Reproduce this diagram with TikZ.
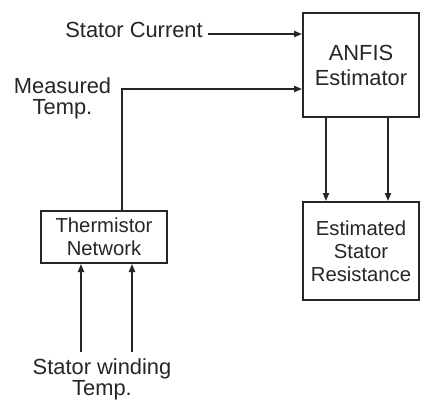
\documentclass[tikz,border=0pt]{standalone}
\usepackage{fontspec}
\setmainfont{Liberation Sans}
\usetikzlibrary{arrows.meta}
\definecolor{ink}{HTML}{262626}
\begin{document}
\begin{tikzpicture}[x=0.75pt,y=-0.75pt,
  box/.style={draw=ink,line width=1.5pt,rectangle,inner sep=0pt,align=center,text=ink},
  lbl/.style={inner sep=0pt,align=center,text=ink,font=\fontsize{16.4pt}{15.75pt}\selectfont},
  arr/.style={draw=ink,line width=1.3pt,-{Triangle[length=6pt,width=4.6pt]}},
  ln/.style={draw=ink,line width=1.3pt}]
\useasboundingbox[fill=white] (0,0) rectangle (421,403);
% blocks
\node[box,minimum width=87pt,minimum height=78pt,
  font=\fontsize{16.4pt}{18.75pt}\selectfont] (anfis) at (361,65) {ANFIS\\Estimator};
\node[box,minimum width=87pt,minimum height=73.5pt,
  font=\fontsize{15.2pt}{17.25pt}\selectfont] (est) at (361,251) {Estimated\\Stator\\Resistance};
\node[box,minimum width=94.5pt,minimum height=39pt,
  font=\fontsize{15.2pt}{17.25pt}\selectfont] (therm) at (104,237) {Thermistor\\Network};
% labels
\node[lbl,anchor=north east] (cur) at (203,22) {Stator Current};
\node[lbl,anchor=north] (meas) at (62.5,77) {Measured\\Temp.};
\node[lbl,anchor=north] (wind) at (102,358) {Stator winding\\Temp.};
% coordinates
\coordinate (c1) at (208,34);
\coordinate (m1) at (122,89);
\coordinate (o1) at (326,0);
\coordinate (o2) at (388,0);
\coordinate (i1) at (81,352);
\coordinate (i2) at (132,352);
% connectors
\draw[arr] (c1) -- (c1 -| anfis.west);
\draw[arr] (therm.north -| m1) -- (m1) -- (m1 -| anfis.west);
\draw[arr] (anfis.south -| o1) -- (est.north -| o1);
\draw[arr] (anfis.south -| o2) -- (est.north -| o2);
\draw[arr] (i1) -- (i1 |- therm.south);
\draw[arr] (i2) -- (i2 |- therm.south);
\end{tikzpicture}
\end{document}
